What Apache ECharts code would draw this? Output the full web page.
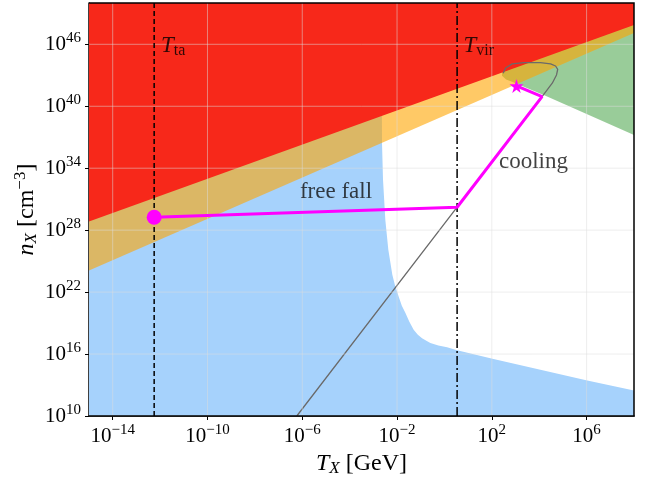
<!DOCTYPE html>
<html>
<head>
<meta charset="utf-8">
<script src="https://cdn.jsdelivr.net/npm/echarts@6/dist/echarts.min.js"></script>
<style>
html,body{margin:0;padding:0;background:#fff}
#chart{width:646px;height:479px}
</style>
</head>
<body>
<div id="chart"></div>
<script>
// every value is a log10: x = log10(T_X / GeV), y = log10(n_X / cm^-3)
var xTicks = [-14, -10, -6, -2, 2, 6];
var yTicks = [10, 16, 22, 28, 34, 40, 46];

// upper edge of the free fall region (blue), its top is hidden under the red region
var freeFall = [[-15, 50], [-2.66, 50], [-2.64, 39.2], [-2.634, 36.42], [-2.592, 32.87],
  [-2.495, 29.0], [-2.368, 26.09], [-2.199, 23.67], [-2.083, 22.61], [-1.933, 21.57],
  [-1.798, 20.67], [-1.65, 19.99], [-1.481, 19.12], [-1.299, 18.35], [-1.122, 17.86],
  [-0.944, 17.54], [-0.763, 17.28], [-0.594, 17.06], [-0.256, 16.84], [0.112, 16.65],
  [0.535, 16.36], [2.026, 15.54], [6.027, 13.44], [8, 12.47]];
// lower edge of the orange band
var bandLow = [[-15, 24.09], [8, 47.09]];
// lower edge of the red region
var redLow = [[-15, 28.83], [8, 47.87]];
// lower edge of the green region
var greenLow = [[2.43, 42.95], [2.6, 42.58], [2.85, 42.38], [4.19, 41.09], [8, 37.22]];
// grey track
var track = [[-6.23, 10], [0.535, 30.22], [4.12, 40.93], [4.55, 42.23], [4.73, 43.03],
  [4.78, 43.58], [4.69, 43.90], [4.48, 44.10], [4.05, 44.22], [3.35, 44.22],
  [2.86, 44.10], [2.58, 43.71], [2.48, 43.19]];
// magenta evolution
var path = [[-12.25, 29.25], [0.535, 30.22], [4.12, 40.93], [3.04, 41.97]];
var tTa = -12.25;
var tVir = 0.535;
// text labels
var notes = [
  {name: '{i|T}{sub|ta}', value: [-11.96, 45.8]},
  {name: '{i|T}{sub|vir}', value: [0.8, 45.8]},
  {name: '{r|free fall}', value: [-6.1, 31.7]},
  {name: '{r|cooling}', value: [2.3, 34.6]}
];

var xMin = -15, xMax = 8, yMin = 10, yMax = 50;
var FONT = 'Liberation Serif';

function pow(v) {
  return '{b|10}{s|' + (v < 0 ? '\u2212' + (-v) : v) + '}';
}
var tickRich = {
  b: {fontFamily: FONT, fontSize: 21, color: '#000'},
  s: {fontFamily: FONT, fontSize: 15, color: '#000', padding: [0, 0, 12, 0]}
};
var textRich = {
  i: {fontFamily: FONT, fontSize: 23, fontStyle: 'italic', color: '#000'},
  r: {fontFamily: FONT, fontSize: 23, color: '#111'},
  sub: {fontFamily: FONT, fontSize: 16, color: '#000', padding: [9, 0, 0, 0]}
};
var nameRich = {
  i: {fontFamily: FONT, fontSize: 24, fontStyle: 'italic', color: '#000'},
  r: {fontFamily: FONT, fontSize: 24, color: '#000'},
  isub: {fontFamily: FONT, fontSize: 17, fontStyle: 'italic', color: '#000', padding: [10, 0, 0, 0]},
  sup: {fontFamily: FONT, fontSize: 17, color: '#000', padding: [0, 0, 12, 0]}
};

function area(data, color, origin, z) {
  return {
    type: 'line', data: data, symbol: 'none', silent: true, z: z,
    lineStyle: {width: 0},
    areaStyle: {color: color, opacity: 1, origin: origin}
  };
}

var chart = echarts.init(document.getElementById('chart'));
chart.setOption({
  animation: false,
  grid: {left: 89, right: 12, top: 3, bottom: 63, outerBoundsMode: 'none', containLabel: false},
  xAxis: {
    type: 'value', min: xMin, max: xMax,
    axisLine: {show: true, onZero: false, lineStyle: {color: '#000', width: 1.5}},
    axisTick: {show: true, customValues: xTicks, length: 4, lineStyle: {color: '#000', width: 1}},
    axisLabel: {customValues: xTicks, formatter: pow, rich: tickRich, margin: 7},
    splitLine: {show: false},
    name: '{i|T}{isub|X}{r| [GeV]}',
    nameLocation: 'middle', nameGap: 33,
    nameTextStyle: {rich: nameRich}
  },
  yAxis: {
    type: 'value', min: yMin, max: yMax,
    axisLine: {show: true, onZero: false, lineStyle: {color: '#000', width: 1.5}},
    axisTick: {show: true, customValues: yTicks, length: 4, lineStyle: {color: '#000', width: 1}},
    axisLabel: {customValues: yTicks, formatter: pow, rich: tickRich, margin: 8},
    splitLine: {show: false},
    name: '{i|n}{isub|X}{r| [cm}{sup|\u22123}{r|]}',
    nameLocation: 'middle', nameGap: 48, nameMoveOverlap: false,
    nameTextStyle: {rich: nameRich}
  },
  series: [
    area(freeFall, '#a6d2fc', 'start', 1),
    area(greenLow, 'rgba(0,128,0,0.4)', 'end', 1),
    area(bandLow, 'rgba(255,165,0,0.6)', 'end', 1),
    {
      type: 'line', data: track, symbol: 'none', silent: true, z: 1,
      lineStyle: {color: '#6a6a6a', width: 1.3}
    },
    area(redLow, '#f7281a', 'end', 1),
    {
      // grid lines
      type: 'custom', silent: true, z: 3,
      data: xTicks.map(function (v) { return [v, 0]; }).concat(yTicks.map(function (v) { return [0, v]; })),
      encode: {x: 0, y: 1},
      renderItem: function (params, api) {
        var a, b;
        if (params.dataIndex < xTicks.length) {
          a = api.coord([api.value(0), yMin]); b = api.coord([api.value(0), yMax]);
        } else {
          a = api.coord([xMin, api.value(1)]); b = api.coord([xMax, api.value(1)]);
        }
        return {type: 'line', shape: {x1: a[0], y1: a[1], x2: b[0], y2: b[1]},
          style: {stroke: 'rgba(222,222,222,0.5)', lineWidth: 1}};
      }
    },
    {
      type: 'line', data: [[tTa, yMin], [tTa, yMax]], symbol: 'none', silent: true, z: 4,
      lineStyle: {color: '#000', width: 1.5, type: [5, 3]}
    },
    {
      type: 'line', data: [[tVir, yMin], [tVir, yMax]], symbol: 'none', silent: true, z: 4,
      lineStyle: {color: '#000', width: 1.5, type: [9, 3, 2, 3]}
    },
    {
      type: 'line', silent: true, showSymbol: true, z: 5,
      lineStyle: {color: '#ff00ff', width: 3},
      itemStyle: {color: '#ff00ff'},
      data: path.map(function (p, i) {
        if (i === 0) return {value: p, symbol: 'circle', symbolSize: 15};
        if (i === path.length - 1) return {value: p, symbol: 'path://M50,0 L61,35 L98,35 L68,57 L79,91 L50,70 L21,91 L32,57 L2,35 L39,35 Z', symbolSize: 14};
        return {value: p, symbol: 'none'};
      })
    },
    {
      // frame
      type: 'custom', silent: true, z: 6, data: [[xMin, yMin]],
      renderItem: function (params, api) {
        var tl = api.coord([xMin, yMax]), tr = api.coord([xMax, yMax]), br = api.coord([xMax, yMin]), bl = api.coord([xMin, yMin]);
        return {type: 'polyline', shape: {points: [bl, br, tr, tl]},
          style: {stroke: '#000', lineWidth: 1.5, fill: null}};
      }
    },
    {
      type: 'scatter', symbolSize: 0, silent: true, z: 10,
      data: notes,
      label: {
        show: true, position: [0, 0], align: 'left', verticalAlign: 'middle',
        formatter: function (p) { return p.name; }, rich: textRich
      }
    }
  ]
});
</script>
</body>
</html>
